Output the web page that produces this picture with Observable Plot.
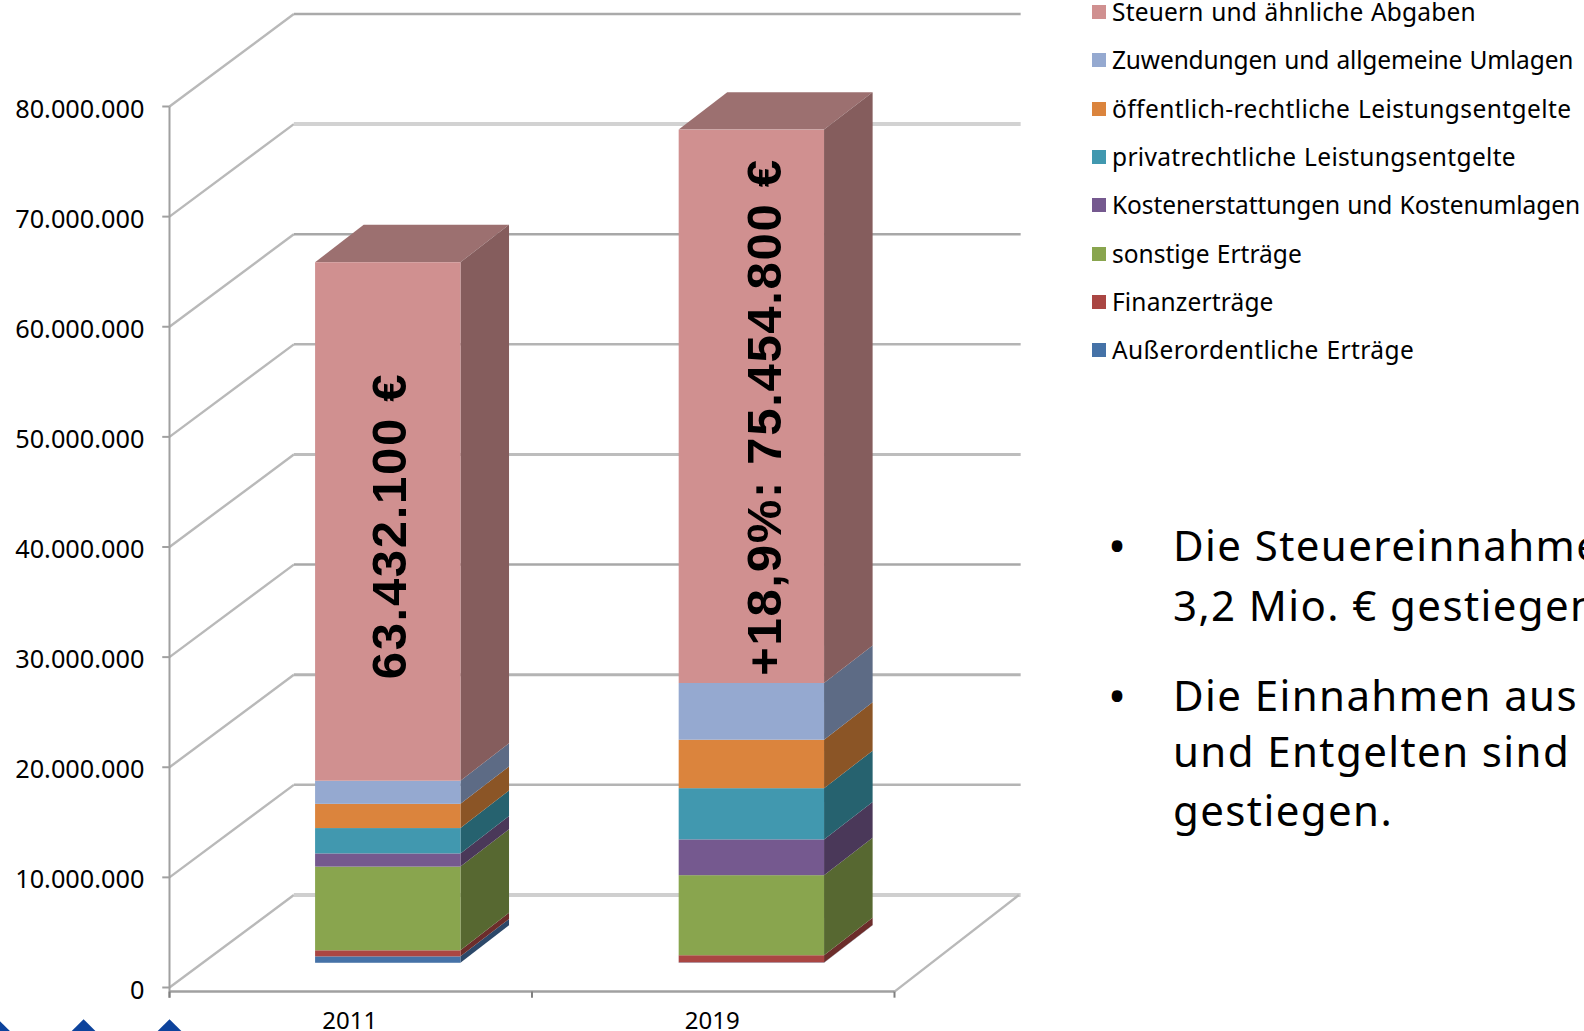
<!DOCTYPE html>
<html lang="de">
<head>
<meta charset="utf-8">
<script src="https://cdn.jsdelivr.net/npm/d3@7"></script>
<script src="https://cdn.jsdelivr.net/npm/@observablehq/plot@0.6"></script>
<style>
html,body{margin:0;padding:0;width:1584px;height:1031px;overflow:hidden;background:#fff;}
body{position:relative;font-family:"Noto Sans",sans-serif;color:#000;}
#chart{position:absolute;left:0;top:0;}
#chart svg{display:block;}
.big text{letter-spacing:1.7px;}
.legend-row{position:absolute;left:1092px;height:24px;white-space:nowrap;font-size:24.5px;line-height:24px;word-spacing:1px;}
.legend-row i{position:absolute;left:0;top:5px;width:14px;height:14px;display:block;}
.legend-row span{position:absolute;left:20px;top:0;}
.body-line{position:absolute;left:1173px;white-space:nowrap;font-size:42px;line-height:56px;height:56px;letter-spacing:1.4px;}
.bullet{position:absolute;left:1108px;font-size:48px;line-height:56px;height:56px;}
</style>
</head>
<body>
<div id="chart"></div>
<script>
const years = ["2011", "2019"];
const categories = ["Steuern und ähnliche Abgaben", "Zuwendungen und allgemeine Umlagen", "öffentlich-rechtliche Leistungsentgelte", "privatrechtliche Leistungsentgelte", "Kostenerstattungen und Kostenumlagen", "sonstige Erträge", "Finanzerträge", "Außerordentliche Erträge"];
const values2011 = [47080000, 2100000, 2200000, 2300000, 1200000, 7600000, 550000, 582100];
const values2019 = [50250000, 5150000, 4400000, 4650000, 3250000, 7270000, 650000, 34800];
const frontColors = ["#d09090", "#95a9d0", "#db843d", "#4198af", "#75598f", "#89a54e", "#aa4643", "#4572a7"];
const sideColors = ["#855d5d", "#5d6b85", "#8b5526", "#26626f", "#4a3859", "#576831", "#6c2d2b", "#2c4869"];
const topColor = "#9c7070";
const legendTracking = [0.18, -0.15, 0.42, 0.33, -0.1, 0, 0.15, 0.4];
const yTicks = [0, 10000000, 20000000, 30000000, 40000000, 50000000, 60000000, 70000000, 80000000];
const gridTones = ["#cfcfcf", "#b4b4b4", "#b4b4b4", "#a8a8a8", "#bdbdbd", "#b4b4b4", "#a8a8a8", "#d2d2d2", "#aaaaaa"];
const gridWidths = [4, 2.5, 3, 2.5, 3, 2.5, 2.5, 4, 2.5];
const barLabels = ["63.432.100 €", "+18,9%:\u00a075.454.800 €"];
const barLabelX = [0.61, 1.643];
const barLabelY = [41900000, 51800000];
const barStartX = [0.403, 1.406];
const barWidth = 0.401, barDepthX = 0.134, barDepthY = 3400000, barBaseLift = 2200000;
const wallDepthX = 0.343, wallDepthY = 8400000, wallLength = 2.005, floorDrop = -370000;
const xTickPositions = [0, 1, 2];
const xLabelPositions = [0.497, 1.497];
const diamonds = [-0.473, -0.237, 0];
const diamondLevel = -5900000;

const seriesByYear = [values2011, values2019];
const front = [], side = [], topFace = [];
years.forEach((year, i) => {
  let level = barBaseLift;
  const x0 = barStartX[i], x1 = x0 + barWidth;
  for (let k = categories.length - 1; k >= 0; k--) {
    const next = level + seriesByYear[i][k];
    front.push({x1: x0, x2: x1, y1: level, y2: next, fill: frontColors[k]});
    const key = year + k;
    side.push({z: key, fill: sideColors[k], x: x1, y1: level, y2: next});
    side.push({z: key, fill: sideColors[k], x: x1 + barDepthX, y1: level + barDepthY, y2: next + barDepthY});
    level = next;
  }
  topFace.push({z: year, x: x0, y1: level, y2: level});
  topFace.push({z: year, x: x0 + barDepthX, y1: level, y2: level + barDepthY});
  topFace.push({z: year, x: x1, y1: level, y2: level + barDepthY});
  topFace.push({z: year, x: x1 + barDepthX, y1: level + barDepthY, y2: level + barDepthY});
});

const grid = yTicks.map((v, i) => ({v, tone: gridTones[i], w: gridWidths[i]}));
const axisColor = "#a0a0a0";
const plot = Plot.plot({
  width: 1060, height: 1031,
  marginLeft: 169, marginRight: 1060 - 894, marginTop: 106, marginBottom: 44,
  x: {domain: [0, 2], axis: null},
  y: {domain: [0, 80000000], axis: null},
  style: {fontFamily: '"Noto Sans",sans-serif', background: "transparent", color: "#000"},
  marks: [
    Plot.link(grid, {x1: () => 0, x2: () => wallDepthX, y1: d => d.v, y2: d => d.v + wallDepthY, stroke: "#b9b9b9", strokeWidth: 2.4}),
    Plot.link(grid, {x1: () => wallDepthX, x2: () => wallDepthX + wallLength, y1: d => d.v + wallDepthY, y2: d => d.v + wallDepthY, stroke: "tone", strokeWidth: "w"}),
    Plot.link([0], {x1: () => 2, x2: () => 2 + wallDepthX, y1: () => floorDrop, y2: () => wallDepthY, stroke: "#b9b9b9", strokeWidth: 2.4}),
    Plot.link([0], {x1: () => 0, x2: () => 2, y1: () => floorDrop, y2: () => floorDrop, stroke: axisColor, strokeWidth: 2.5}),
    Plot.link([0], {x1: () => 0, x2: () => 0, y1: () => floorDrop * 2.5, y2: () => 80000000, stroke: axisColor, strokeWidth: 2}),
    Plot.link(yTicks, {x1: () => -0.02, x2: () => 0, y1: d => d, y2: d => d, stroke: axisColor, strokeWidth: 2}),
    Plot.link(xTickPositions, {x1: d => d, x2: d => d, y1: () => floorDrop, y2: () => floorDrop * 2.5, stroke: "#808080", strokeWidth: 2}),
    Plot.text(yTicks, {x: () => 0, y: d => d, text: d => d3.format(",")(d).replaceAll(",", "."), textAnchor: "end", dx: -25, dy: 3, fontSize: 25.3, fill: "#000"}),
    Plot.text(years, {x: (d, i) => xLabelPositions[i], y: () => floorDrop, text: d => d, dy: 30, fontSize: 24, fill: "#000"}),
    Plot.areaY(topFace, {x: "x", y1: "y1", y2: "y2", z: "z", fill: topColor}),
    Plot.areaY(side, {x: "x", y1: "y1", y2: "y2", z: "z", fill: "fill"}),
    Plot.rect(front, {x1: "x1", x2: "x2", y1: "y1", y2: "y2", fill: "fill"}),
    Plot.text(barLabels, {x: (d, i) => barLabelX[i], y: (d, i) => barLabelY[i], text: d => d, rotate: -90, fontSize: 49, fontWeight: "bold", fontFamily: '"Liberation Sans",sans-serif', fill: "#000", className: "big"}),
    Plot.dot(diamonds, {x: d => d, y: () => diamondLevel, symbol: "diamond2", r: 30, fill: "#0d439c", stroke: "none"})
  ]
});
document.getElementById("chart").appendChild(plot);

categories.forEach((name, i) => {
  const row = document.createElement("div");
  row.className = "legend-row";
  row.style.top = (0 + i * 48.3) + "px";
  row.style.letterSpacing = legendTracking[i] + "px";
  const sw = document.createElement("i");
  sw.style.background = frontColors[i];
  const label = document.createElement("span");
  label.textContent = name;
  row.append(sw, label);
  document.body.append(row);
});

const bodyLines = [["Die Steuereinnahmen", 517, true], ["3,2 Mio. € gestiegen", 577, false], ["Die Einnahmen aus", 667, true], ["und Entgelten sind", 723, false], ["gestiegen.", 782, false]];
bodyLines.forEach(([text, y, bullet]) => {
  const line = document.createElement("div");
  line.className = "body-line";
  line.style.top = y + "px";
  line.textContent = text;
  document.body.append(line);
  if (bullet) {
    const b = document.createElement("div");
    b.className = "bullet";
    b.style.top = y + "px";
    b.textContent = "•";
    document.body.append(b);
  }
});
</script>
</body>
</html>
